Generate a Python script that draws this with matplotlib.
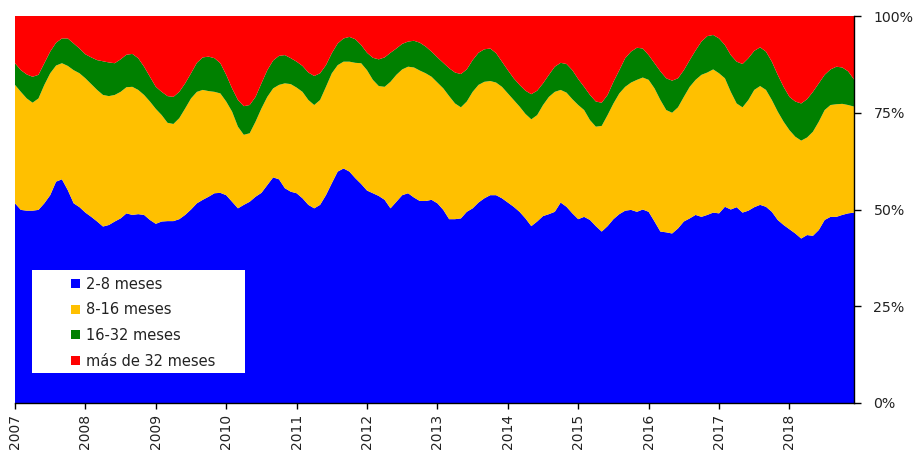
import numpy as np
import matplotlib
matplotlib.use('Agg')
import matplotlib.pyplot as plt
from matplotlib.patches import Patch, Rectangle

# Participación mensual (%) por plazo, ene-2007 a dic-2018
years = list(range(2007, 2019))
series_names = ['2-8 meses', '8-16 meses', '16-32 meses', 'más de 32 meses']
series_colors = ['#0000FF', '#FFC000', '#008000', '#FF0000']

s_2_8 = [
    51.6, 49.9, 49.7, 49.7, 49.9, 51.6, 53.7, 57.2, 57.8, 55.0, 51.6, 50.6,
    49.2, 48.1, 46.9, 45.6, 46.0, 46.9, 47.7, 49.0, 48.6, 48.8, 48.6, 47.3,
    46.3, 46.9, 47.0, 47.0, 47.5, 48.6, 50.0, 51.6, 52.5, 53.3, 54.2, 54.3,
    53.7, 52.0, 50.3, 51.2, 52.0, 53.3, 54.3, 56.3, 58.3, 57.8, 55.5, 54.6,
    54.2, 52.9, 51.2, 50.3, 51.2, 53.7, 56.8, 59.8, 60.6, 59.8, 58.1, 56.6,
    54.9, 54.2, 53.5, 52.5, 50.3, 52.0, 53.7, 54.2, 53.1, 52.2, 52.2, 52.5,
    51.6, 49.9, 47.5, 47.5, 47.7, 49.4, 50.3, 51.8, 52.9, 53.7, 53.7, 52.9,
    51.8, 50.7, 49.4, 47.7, 45.7, 46.9, 48.3, 48.8, 49.4, 51.8, 50.7, 49.0,
    47.5, 48.1, 47.3, 45.7, 44.3, 45.7, 47.5, 48.8, 49.7, 49.9, 49.4, 50.0,
    49.4, 46.9, 44.3, 44.1, 43.8, 45.1, 46.9, 47.7, 48.6, 48.1, 48.6, 49.2,
    49.0, 50.7, 50.0, 50.6, 49.2, 49.7, 50.6, 51.2, 50.7, 49.4, 47.3, 46.0,
    44.9, 43.8, 42.5, 43.4, 43.2, 44.7, 47.3, 48.1, 48.1, 48.6, 49.0, 49.2,
]
s_8_16 = [
    30.6, 30.5, 29.0, 27.9, 28.8, 30.6, 31.5, 30.0, 30.0, 32.1, 34.4, 34.6,
    34.7, 34.3, 34.0, 34.0, 33.3, 32.7, 32.7, 32.6, 33.1, 32.1, 31.0, 30.6,
    29.7, 27.5, 25.4, 25.1, 26.1, 27.5, 28.7, 28.8, 28.4, 27.3, 26.2, 25.7,
    24.2, 23.3, 21.1, 18.1, 17.7, 19.4, 21.8, 22.8, 23.0, 24.4, 27.1, 27.8,
    27.3, 27.5, 27.1, 26.7, 27.1, 28.0, 28.4, 27.5, 27.6, 28.4, 29.8, 31.2,
    31.1, 29.3, 28.4, 29.2, 32.7, 32.8, 32.5, 32.7, 33.6, 33.7, 33.0, 31.8,
    31.2, 31.4, 31.8, 29.9, 28.7, 28.5, 30.1, 30.4, 30.1, 29.5, 29.1, 28.8,
    28.2, 27.6, 27.2, 27.0, 27.6, 27.5, 28.7, 30.3, 31.0, 29.1, 29.5, 29.5,
    29.5, 27.6, 25.8, 25.7, 27.3, 28.7, 29.9, 31.2, 32.0, 32.9, 34.1, 34.1,
    34.1, 34.4, 34.0, 31.6, 31.2, 31.3, 32.2, 34.0, 34.9, 36.7, 36.8, 37.0,
    36.2, 33.2, 30.4, 26.8, 27.2, 28.6, 30.3, 30.7, 30.2, 28.9, 28.0, 26.7,
    25.6, 25.0, 25.3, 25.2, 26.9, 28.0, 28.4, 28.9, 29.1, 28.7, 28.0, 27.4,
]
s_16_32 = [
    5.6, 5.6, 6.2, 6.7, 6.1, 5.6, 5.6, 5.9, 6.4, 7.1, 6.9, 6.4,
    6.2, 6.9, 7.7, 8.7, 8.7, 8.2, 8.4, 8.4, 8.5, 8.2, 7.3, 6.4,
    5.7, 6.0, 6.9, 7.0, 6.8, 6.5, 6.5, 7.5, 8.4, 8.9, 8.7, 7.8,
    6.9, 6.0, 6.9, 7.4, 7.3, 6.4, 6.5, 6.9, 7.2, 7.5, 7.3, 6.7,
    6.7, 6.7, 7.1, 7.5, 6.9, 5.6, 5.2, 5.6, 6.0, 6.4, 6.1, 4.7,
    4.5, 5.7, 6.9, 7.6, 7.5, 6.8, 6.6, 6.5, 6.9, 7.2, 6.9, 6.5,
    6.5, 6.6, 7.2, 8.0, 8.6, 8.3, 8.2, 8.3, 8.4, 8.4, 7.6, 6.5,
    6.0, 5.6, 5.6, 6.0, 6.5, 6.3, 5.6, 5.7, 6.5, 7.0, 7.4, 7.5,
    6.7, 6.0, 6.5, 6.5, 6.0, 5.2, 5.6, 6.0, 7.4, 8.0, 8.3, 7.5,
    6.4, 6.5, 7.4, 8.2, 8.3, 7.5, 6.9, 6.9, 7.6, 8.6, 9.4, 8.9,
    9.0, 8.6, 9.5, 10.8, 11.2, 10.8, 10.1, 10.0, 9.9, 9.9, 9.5, 9.0,
    8.6, 9.1, 9.6, 9.9, 10.3, 9.9, 9.1, 9.2, 9.7, 9.4, 8.7, 7.0,
]
s_32_mas = [
    12.2, 14.0, 15.1, 15.7, 15.2, 12.2, 9.2, 6.9, 5.8, 5.8, 7.1, 8.4,
    9.9, 10.7, 11.4, 11.7, 12.0, 12.2, 11.2, 10.0, 9.8, 10.9, 13.1, 15.7,
    18.3, 19.6, 20.7, 20.9, 19.6, 17.4, 14.8, 12.1, 10.7, 10.5, 10.9, 12.2,
    15.2, 18.7, 21.7, 23.3, 23.0, 20.9, 17.4, 14.0, 11.5, 10.3, 10.1, 10.9,
    11.8, 12.9, 14.6, 15.5, 14.8, 12.7, 9.6, 7.1, 5.8, 5.4, 6.0, 7.5,
    9.5, 10.8, 11.2, 10.7, 9.5, 8.4, 7.2, 6.6, 6.4, 6.9, 7.9, 9.2,
    10.7, 12.1, 13.5, 14.6, 15.0, 13.8, 11.4, 9.5, 8.6, 8.4, 9.6, 11.8,
    14.0, 16.1, 17.8, 19.3, 20.2, 19.3, 17.4, 15.2, 13.1, 12.1, 12.4, 14.0,
    16.3, 18.3, 20.4, 22.1, 22.4, 20.4, 17.0, 14.0, 10.9, 9.2, 8.2, 8.4,
    10.1, 12.2, 14.3, 16.1, 16.7, 16.1, 14.0, 11.4, 8.9, 6.6, 5.2, 4.9,
    5.8, 7.5, 10.1, 11.8, 12.4, 10.9, 9.0, 8.1, 9.2, 11.8, 15.2, 18.3,
    20.9, 22.1, 22.6, 21.5, 19.6, 17.4, 15.2, 13.8, 13.1, 13.3, 14.3, 16.4,
]

W, H = 914, 454
fig = plt.figure(figsize=(W / 100, H / 100), dpi=100)
ax = fig.add_axes([15 / W, 1 - 403 / H, (854 - 15) / W, (403 - 16) / H])

meses = np.arange(len(s_2_8))
data = np.array([s_2_8, s_8_16, s_16_32, s_32_mas])
data = data / data.sum(axis=0) * 100.0
ax.stackplot(meses, data, colors=series_colors, linewidth=0, antialiased=True)

ax.set_xlim(0, len(meses) - 1)
ax.set_ylim(0, 100)

# eje X: un tick por año, etiquetas verticales
ax.set_xticks([12 * i for i in range(len(years))])
ax.set_xticklabels([str(y) for y in years], rotation=90, fontsize=10)
ax.tick_params(axis='x', direction='out', length=4, width=1, pad=4,
               colors='black', labelcolor='#222222')

# eje Y a la derecha en porcentaje
ax.yaxis.tick_right()
ax.set_yticks([0, 25, 50, 75, 100])
ax.set_yticklabels(['0%', '25%', '50%', '75%', '100%'], fontsize=10.2)
ax.tick_params(axis='y', direction='out', length=5, width=1, pad=9,
               labelcolor='#222222')

for side in ['top', 'left']:
    ax.spines[side].set_visible(False)
ax.spines['bottom'].set_linewidth(1)
ax.spines['right'].set_linewidth(1)

# leyenda sobre un recuadro blanco
box = Rectangle((32 / W, 1 - 373 / H), 213 / W, 103 / H, transform=fig.transFigure,
                facecolor='white', edgecolor='none', zorder=4)
fig.patches.append(box)
handles = [Patch(facecolor=c, edgecolor='none') for c in series_colors]
leg = fig.legend(handles, series_names, loc='upper left',
                 bbox_to_anchor=(71 / W, 1 - 277 / H), bbox_transform=fig.transFigure,
                 frameon=False, fontsize=10.5, handlelength=0.6, handleheight=0.6,
                 handletextpad=0.45, labelspacing=0.72, borderpad=0, borderaxespad=0)
leg.set_zorder(5)
for t in leg.get_texts():
    t.set_color('#222222')

plt.savefig('out.png', dpi=100)
plt.close()
